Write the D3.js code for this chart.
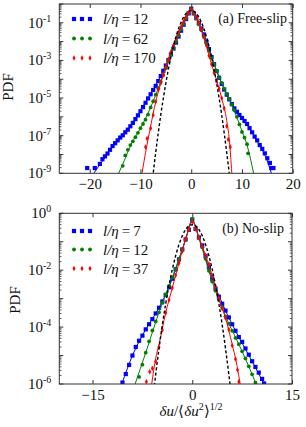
<!DOCTYPE html>
<html><head><meta charset="utf-8">
<script src="https://cdn.jsdelivr.net/npm/d3@7"></script>
<style>
body{margin:0;background:#fff}
svg{display:block}
text{font-family:"Liberation Serif","Times New Roman",serif;fill:#111}
</style>
</head><body>
<svg id="c" width="306" height="427"></svg>
<script>
// ---------- DATA (x, log10 PDF) ----------
// Panel (a) Free-slip
const freeLabels = ["12", "62", "170"];
const free12 = [[-20.5,-8.72],[-19.0,-8.72],[-18.0,-8.5],[-17.5,-8.25],[-17.0,-8.1],[-16.5,-7.95],[-16.0,-7.75],[-15.5,-7.55],[-15.0,-7.4],[-14.5,-7.25],[-14.0,-7.1],[-13.5,-6.98],[-13.0,-6.82],[-12.5,-6.68],[-12.0,-6.5],[-11.5,-6.32],[-11.0,-6.12],[-10.5,-5.92],[-10.0,-5.7],[-9.5,-5.48],[-9.0,-5.25],[-8.5,-5.02],[-8.0,-4.8],[-7.5,-4.57],[-7.0,-4.35],[-6.5,-4.1],[-6.0,-3.83],[-5.5,-3.55],[-5.0,-3.27],[-4.5,-2.98],[-4.0,-2.68],[-3.5,-2.37],[-3.0,-2.05],[-2.5,-1.73],[-2.0,-1.42],[-1.5,-1.1],[-1.0,-0.8],[-0.5,-0.5],[0,-0.25],[0.5,-0.5],[1.0,-0.75],[1.5,-1.02],[2.0,-1.3],[2.5,-1.62],[3.0,-2.0],[3.5,-2.4],[4.0,-2.82],[4.5,-3.2],[5.0,-3.57],[5.5,-3.92],[6.0,-4.25],[6.5,-4.55],[7.0,-4.82],[7.5,-5.07],[8.0,-5.32],[8.5,-5.55],[9.0,-5.73],[9.5,-5.9],[10.0,-6.06],[10.5,-6.22],[11.0,-6.38],[11.5,-6.6],[12.0,-6.82],[12.5,-7.05],[13.0,-7.25],[13.5,-7.5],[14.0,-7.7],[14.5,-7.94],[15.0,-8.2],[15.5,-8.45],[15.8,-8.72],[16.2,-8.72]];
const free62 = [[-13.5,-8.6],[-13.0,-8.05],[-12.5,-7.75],[-12.0,-7.5],[-11.5,-7.3],[-11.0,-7.08],[-10.5,-6.85],[-10.0,-6.6],[-9.5,-6.38],[-9.0,-6.15],[-8.5,-5.88],[-8.0,-5.5],[-7.5,-5.17],[-7.0,-4.82],[-6.5,-4.48],[-6.0,-4.13],[-5.5,-3.78],[-5.0,-3.42],[-4.5,-3.05],[-4.0,-2.7],[-3.5,-2.35],[-3.0,-2.0],[-2.5,-1.67],[-2.0,-1.35],[-1.5,-1.05],[-1.0,-0.78],[-0.5,-0.5],[0,-0.28],[0.5,-0.5],[1.0,-0.78],[1.5,-1.08],[2.0,-1.4],[2.5,-1.75],[3.0,-2.1],[3.5,-2.48],[4.0,-2.85],[4.5,-3.2],[5.0,-3.55],[5.5,-3.9],[6.0,-4.2],[6.5,-4.5],[7.0,-4.78],[7.5,-5.05],[8.0,-5.35],[8.5,-5.65],[9.0,-6.0],[9.5,-6.4],[10.0,-6.8],[10.5,-7.1],[11.0,-7.45],[11.2,-7.94]];
const free170 = [[-9.0,-7.6],[-8.7,-7.15],[-8.0,-6.6],[-7.5,-5.9],[-7.0,-5.2],[-6.5,-4.55],[-6.0,-4.2],[-5.5,-3.78],[-5.0,-3.35],[-4.5,-2.95],[-4.0,-2.55],[-3.5,-2.2],[-3.0,-1.85],[-2.5,-1.52],[-2.0,-1.22],[-1.5,-0.95],[-1.0,-0.7],[-0.5,-0.47],[0,-0.28],[0.5,-0.45],[1.0,-0.7],[1.5,-1.0],[2.0,-1.35],[2.5,-1.75],[3.0,-2.2],[3.5,-2.75],[4.0,-3.2],[4.5,-3.65],[5.0,-4.1],[5.5,-4.5],[6.0,-5.0],[6.5,-5.55],[7.0,-6.5],[7.3,-7.2],[7.7,-7.6]];
const freeFit12 = [[-19.2,-9],[-17,-8.15],[-15,-7.42],[-13,-6.85],[-11,-6.1],[-9,-5.22],[-7,-4.32],[-5,-3.25],[-3,-2.02],[-1,-0.78],[0,-0.3],[1,-0.76],[3,-1.98],[5,-3.55],[7,-4.8],[9,-5.72],[11,-6.4],[13,-7.3],[15,-8.35],[15.8,-9]];
const freeFit62 = [[-14.3,-9],[-13,-8.2],[-12,-7.55],[-10,-6.6],[-8,-5.5],[-6,-4.13],[-4,-2.7],[-2,-1.35],[0,-0.3],[2,-1.4],[4,-2.85],[6,-4.2],[8,-5.35],[10,-6.75],[11,-7.5],[12.3,-9]];
const freeFit170 = [[-9.7,-9],[-9,-7.9],[-8,-6.5],[-7,-5.2],[-6,-4.2],[-4,-2.55],[-2,-1.22],[0,-0.3],[2,-1.35],[4,-3.2],[6,-5.0],[7,-6.2],[7.5,-7.2],[8,-9]];
const freeGauss = [[-7.6,-9.24],[-7.0,-7.9],[-6.5,-6.86],[-6.0,-5.89],[-5.5,-5.01],[-5.0,-4.2],[-4.5,-3.47],[-4.0,-2.81],[-3.5,-2.24],[-3.0,-1.74],[-2.5,-1.31],[-2.0,-0.97],[-1.5,-0.69],[-1.0,-0.5],[-0.5,-0.39],[0,-0.35],[0.5,-0.39],[1.0,-0.5],[1.5,-0.69],[2.0,-0.97],[2.5,-1.31],[3.0,-1.74],[3.5,-2.24],[4.0,-2.81],[4.5,-3.47],[5.0,-4.2],[5.5,-5.01],[6.0,-5.89],[6.5,-6.86],[7.0,-7.9],[7.5,-9.01]];

// Panel (b) No-slip
const noLabels = ["7", "12", "37"];
const no7 = [[-10.5,-5.95],[-10.0,-5.65],[-9.5,-5.33],[-9.0,-5.0],[-8.5,-4.7],[-8.0,-4.48],[-7.5,-4.3],[-7.0,-4.08],[-6.5,-3.9],[-6.0,-3.72],[-5.5,-3.52],[-5.0,-3.32],[-4.5,-3.1],[-4.0,-2.87],[-3.5,-2.6],[-3.0,-2.3],[-2.5,-1.97],[-2.0,-1.62],[-1.5,-1.27],[-1.0,-0.92],[-0.5,-0.58],[0,-0.22],[0.5,-0.55],[1.0,-0.85],[1.5,-1.13],[2.0,-1.5],[2.5,-1.9],[3.0,-2.3],[3.5,-2.65],[4.0,-2.93],[4.5,-3.18],[5.0,-3.42],[5.5,-3.66],[6.0,-3.9],[6.5,-4.13],[7.0,-4.35],[7.5,-4.52],[8.0,-4.75],[8.5,-4.97],[9.0,-5.2],[9.5,-5.4],[10.0,-5.6],[10.5,-5.82],[10.8,-5.98]];
const no12 = [[-8.0,-5.75],[-7.5,-5.32],[-7.0,-4.9],[-6.5,-4.5],[-6.0,-4.12],[-5.5,-3.8],[-5.0,-3.48],[-4.5,-3.15],[-4.0,-2.85],[-3.5,-2.55],[-3.0,-2.25],[-2.5,-1.95],[-2.0,-1.62],[-1.5,-1.28],[-1.0,-0.93],[-0.5,-0.58],[0,-0.2],[0.5,-0.55],[1.0,-0.88],[1.5,-1.2],[2.0,-1.6],[2.5,-2.02],[3.0,-2.4],[3.5,-2.72],[4.0,-3.03],[4.5,-3.3],[5.0,-3.62],[5.5,-3.88],[6.0,-4.13],[6.5,-4.38],[7.0,-4.6],[7.5,-4.85],[8.0,-5.1],[8.5,-5.38],[9.0,-5.66],[9.5,-5.95]];
const no37 = [[-6.9,-5.92],[-6.4,-5.57],[-6.0,-5.45],[-5.5,-5.2],[-5.0,-4.7],[-4.5,-4.1],[-4.0,-3.5],[-3.5,-3.05],[-3.0,-2.62],[-2.5,-2.18],[-2.0,-1.75],[-1.5,-1.33],[-1.0,-0.9],[-0.5,-0.55],[0,-0.3],[0.5,-0.55],[1.0,-0.85],[1.5,-1.18],[2.0,-1.48],[2.5,-1.78],[3.0,-2.2],[3.5,-2.6],[4.0,-2.98],[4.5,-3.35],[5.0,-3.68],[5.5,-4.08],[6.0,-4.65],[6.5,-5.12],[6.8,-5.5],[7.0,-5.92]];
const noFit7 = [[-10.6,-6],[-9,-5.0],[-7,-4.08],[-5,-3.32],[-3,-2.3],[-1,-0.92],[0,-0.25],[1,-0.85],[3,-2.3],[5,-3.42],[7,-4.35],[9,-5.2],[10.8,-6]];
const noFit12 = [[-8.6,-6],[-7,-4.9],[-5,-3.48],[-3,-2.25],[-1,-0.93],[0,-0.25],[1,-0.88],[3,-2.4],[5,-3.62],[7,-4.6],[9,-5.66],[9.6,-6]];
const noFit37 = [[-6.1,-6],[-5.5,-5.1],[-5,-4.6],[-4,-3.5],[-3,-2.62],[-2,-1.75],[-1,-0.9],[0,-0.3],[1,-0.85],[2,-1.48],[3,-2.2],[4,-2.98],[5,-3.68],[6,-4.6],[6.6,-5.2],[7.2,-6]];
const noGauss = [[-5.8,-6.25],[-5.5,-5.66],[-5.0,-4.75],[-4.5,-3.92],[-4.0,-3.18],[-3.5,-2.53],[-3.0,-1.97],[-2.5,-1.49],[-2.0,-1.1],[-1.5,-0.79],[-1.0,-0.57],[-0.5,-0.44],[0,-0.4],[0.5,-0.44],[1.0,-0.57],[1.5,-0.79],[2.0,-1.1],[2.5,-1.49],[3.0,-1.97],[3.5,-2.53],[4.0,-3.18],[4.5,-3.92],[5.0,-4.75],[5.5,-5.66],[5.8,-6.25]];

// Tick labels
const freeXTicks = [-20, -10, 0, 10, 20];
const freeYLabelExps = [-1, -3, -5, -7, -9];
const noXTicks = [-15, 0, 15];
const noYLabelExps = [0, -2, -4, -6];

// ---------- DRAWING ----------
const colors = ["#0000ff", "#008000", "#ff0000"];
const svg = d3.select("#c");

function drawMarker(g, kind, cx, cy, color) {
  if (kind === 0) {
    g.append("rect").attr("x", cx - 2.1).attr("y", cy - 2.1).attr("width", 4.2).attr("height", 4.2).attr("fill", color);
  } else if (kind === 1) {
    g.append("circle").attr("cx", cx).attr("cy", cy).attr("r", 1.9).attr("fill", color);
  } else {
    g.append("path").attr("d", `M${cx},${cy-2.8}L${cx+1.5},${cy}L${cx},${cy+2.8}L${cx-1.5},${cy}Z`).attr("fill", color);
  }
}

function panel(cfg, idx) {
  const x = d3.scaleLinear().domain(cfg.xDomain).range([cfg.left, cfg.right]);
  const y = d3.scaleLog().domain([Math.pow(10, cfg.yExp[0]), Math.pow(10, cfg.yExp[1])]).range([cfg.bottom, cfg.top]);
  const g = svg.append("g");
  const clipId = "clip" + idx;
  g.append("clipPath").attr("id", clipId).append("rect")
    .attr("x", cfg.left).attr("y", cfg.top).attr("width", cfg.right - cfg.left).attr("height", cfg.bottom - cfg.top);
  const plot = g.append("g").attr("clip-path", `url(#${clipId})`);
  const P = d => Math.pow(10, d[1]);
  const line = d3.line().x(d => x(d[0])).y(d => y(P(d))).curve(d3.curveMonotoneX);

  cfg.series.forEach((s, i) => {
    plot.append("path").attr("d", line(cfg.fits[i])).attr("fill", "none").attr("stroke", colors[i]).attr("stroke-width", 1);
    s.forEach(d => drawMarker(plot, i, x(d[0]), y(P(d)), colors[i]));
  });
  plot.append("path").attr("d", line(cfg.gauss)).attr("fill", "none").attr("stroke", "#000")
    .attr("stroke-width", 1.4).attr("stroke-dasharray", "3,2.2");

  // frame
  g.append("rect").attr("x", cfg.left).attr("y", cfg.top).attr("width", cfg.right - cfg.left).attr("height", cfg.bottom - cfg.top)
    .attr("fill", "none").attr("stroke", "#333").attr("stroke-width", 1);

  // x axes (inward ticks, bottom labelled, top mirrored)
  const xb = g.append("g").attr("transform", `translate(0,${cfg.bottom})`)
    .call(d3.axisBottom(x).tickValues(cfg.xTicks).tickSizeInner(-4).tickSizeOuter(0).tickPadding(5));
  const xt = g.append("g").attr("transform", `translate(0,${cfg.top})`)
    .call(d3.axisTop(x).tickValues(cfg.xTicks).tickSizeInner(-4).tickSizeOuter(0).tickFormat(""));
  [xb, xt].forEach(a => { a.select(".domain").remove(); a.selectAll("line").attr("stroke", "#333"); });
  xb.selectAll("text").attr("font-size", 15).attr("font-family", "Liberation Serif, serif").attr("fill", "#111");

  // y ticks: decades major, 2..9 minor, both sides
  const majors = d3.range(cfg.yExp[0], cfg.yExp[1] + 1).map(e => Math.pow(10, e));
  const minors = [];
  for (let e = cfg.yExp[0]; e < cfg.yExp[1]; e++) for (let m = 2; m <= 9; m++) minors.push(m * Math.pow(10, e));
  [[cfg.left, 1], [cfg.right, -1]].forEach(([xp, dir]) => {
    g.append("g").selectAll("line.maj").data(majors).join("line")
      .attr("x1", xp).attr("x2", xp + dir * 4).attr("y1", d => y(d)).attr("y2", d => y(d)).attr("stroke", "#333");
    g.append("g").selectAll("line.min").data(minors).join("line")
      .attr("x1", xp).attr("x2", xp + dir * 2.2).attr("y1", d => y(d)).attr("y2", d => y(d)).attr("stroke", "#333").attr("stroke-width", 0.8);
  });
  cfg.yLabelExps.forEach(e => {
    const t = g.append("text").attr("x", cfg.left - 8).attr("y", y(Math.pow(10, e)) + 5)
      .attr("text-anchor", "end").attr("font-size", 15);
    t.append("tspan").text("10");
    t.append("tspan").attr("dy", -6).attr("font-size", 10).text(String(e));
  });

  // y label
  g.append("text").attr("transform", `translate(${cfg.ylabX},${cfg.ylabY}) rotate(-90)`)
    .attr("text-anchor", "middle").attr("font-size", 15).text("PDF");

  // legend
  cfg.labels.forEach((lab, i) => {
    const ly = cfg.legY[i];
    [74, 82, 90].forEach(mx => drawMarker(g, i, mx, ly, colors[i]));
    const t = g.append("text").attr("x", 103).attr("y", ly + 5).attr("font-size", 15);
    t.append("tspan").attr("font-style", "italic").text("l/η");
    t.append("tspan").text("\u2009=\u2009" + lab);
  });

  // annotation
  g.append("text").attr("x", cfg.noteX).attr("y", cfg.noteY).attr("text-anchor", "end").attr("font-size", 14).text(cfg.note);
}

panel({
  left: 59.3, right: 292.7, top: 4, bottom: 173.3,
  xDomain: [-26, 20], yExp: [-9, 0],
  series: [free12, free62, free170], fits: [freeFit12, freeFit62, freeFit170], gauss: freeGauss,
  xTicks: freeXTicks, yLabelExps: freeYLabelExps, labels: freeLabels,
  legY: [19, 38.5, 58], note: "(a) Free-slip", noteX: 287, noteY: 23,
  ylabX: 13, ylabY: 87
}, 0);

panel({
  left: 59.3, right: 292, top: 213.3, bottom: 384,
  xDomain: [-20, 15], yExp: [-6, 0],
  series: [no7, no12, no37], fits: [noFit7, noFit12, noFit37], gauss: noGauss,
  xTicks: noXTicks, yLabelExps: noYLabelExps, labels: noLabels,
  legY: [231, 249.5, 268.5], note: "(b) No-slip", noteX: 284, noteY: 233,
  ylabX: 20, ylabY: 300
}, 1);

// x-axis title
const xt = svg.append("text").attr("x", 191).attr("y", 416).attr("text-anchor", "middle").attr("font-size", 15);
xt.append("tspan").attr("font-style", "italic").text("δu");
xt.append("tspan").text("/⟨");
xt.append("tspan").attr("font-style", "italic").text("δu");
xt.append("tspan").attr("dy", -6).attr("font-size", 10).text("2");
xt.append("tspan").attr("dy", 6).text("⟩");
xt.append("tspan").attr("dy", -6).attr("font-size", 10).text("1/2");
</script>
</body></html>
